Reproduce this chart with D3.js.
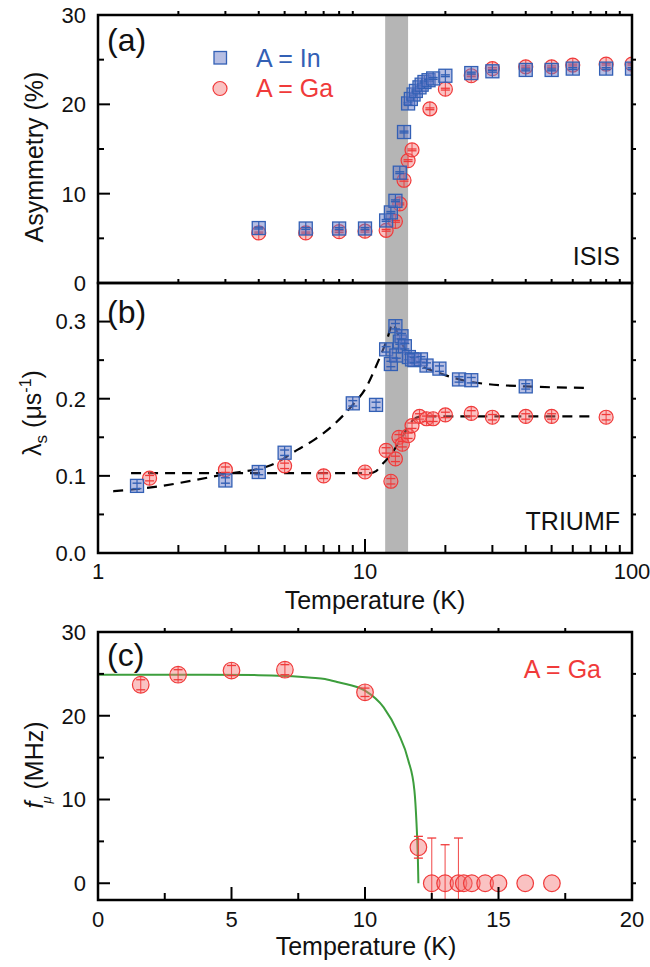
<!DOCTYPE html>
<html><head><meta charset="utf-8">
<script src="https://cdn.jsdelivr.net/npm/d3@7"></script>
<style>
body{margin:0;background:#fff}
svg{display:block}
text{font-family:"Liberation Sans",Arial,Helvetica,sans-serif;fill:#111}
</style>
</head><body>
<svg id="chart" width="650" height="967"></svg>
<script>
// ---------------- DATA ----------------
// Panel (a): ISIS asymmetry (%)
const aInT   = [4,6,8,10,12,12.5,13,13.5,14,14.5,14.85,15.2,15.5,16,16.3,16.7,17.3,18,20,25,30,40,50,60,80,100];
const aInA   = [6.15,6.1,6.1,6.1,7.0,7.9,9.2,12.35,16.9,20.1,20.6,21.1,21.5,21.9,22.2,22.5,22.7,22.9,23.2,23.5,23.7,23.85,23.85,24.0,24.0,24.0];
const aGaT   = [4,6,8,10,12,13,13.5,14,14.5,15,17.5,20,25,30,40,50,60,80,100];
const aGaA   = [5.6,5.6,5.75,5.8,5.9,6.9,8.85,11.5,13.7,14.9,19.5,21.7,23.2,24.0,24.2,24.2,24.4,24.5,24.5];
const aErr   = 0.1;

// Panel (b): TRIUMF lambda_s (us^-1)
const bInT   = [1.4,3,4,5,9,11,12,12.5,13,13.1,13.5,13.7,14.1,14.6,15,15.3,16.2,17,19,22.5,25,40];
const bInL   = [0.087,0.094,0.105,0.130,0.194,0.192,0.264,0.245,0.294,0.256,0.274,0.281,0.268,0.254,0.251,0.250,0.251,0.243,0.239,0.225,0.224,0.216];
const bGaT   = [1.56,3,5,7,10,12,12.5,13,13.4,13.8,14.5,15,16,17,18,20,25,30,40,50,80];
const bGaL   = [0.097,0.108,0.113,0.100,0.105,0.133,0.093,0.122,0.150,0.141,0.152,0.165,0.177,0.174,0.174,0.179,0.181,0.176,0.177,0.177,0.176];
const bErr   = 0.0035;
// dashed fit curves
const fitInT = [1.14,1.58,2.98,4.46,5.6,6.47,7.5,9.15,10.0,11.0,12.1,12.7,13.5,14.3,15.8,19.1,25.8,39.7,70];
const fitInL = [0.080,0.085,0.102,0.114,0.134,0.147,0.164,0.195,0.212,0.242,0.277,0.297,0.277,0.261,0.246,0.233,0.221,0.216,0.214];
const fitGaT = [1.33,10.5,11.0,11.4,12.6,13.8,15.2,16.3,70];
const fitGaL = [0.1035,0.1035,0.106,0.112,0.129,0.151,0.173,0.177,0.177];

// Transition band (K)
const band = [11.9, 14.5];

// Panel (c): muon frequency (MHz), A = Ga
const cT     = [1.6,3,5,7,10,12,12.5,13,13.5,13.7,14,14.5,15,16,17];
const cF     = [23.7,24.9,25.4,25.5,22.8,4.3,0,0,0,0,0,0,0,0,0];
const cErr   = [0.6,0.6,0.6,0.6,0.5,1.3,5.4,4.6,5.4,0,0,0,0,0,0];
const fitCT  = [0,2,4,6,7,8,8.5,9,10,10.7,11.25,11.62,11.85,11.93,11.98,12.0];
const fitCF  = [24.9,24.9,24.9,24.85,24.75,24.55,24.4,24.0,23.0,21.0,17.9,14.7,11.1,7.1,3.0,0];

// tick labels
const ticksAy = [0,10,20,30];
const ticksBy = [0.0,0.1,0.2,0.3];
const ticksLogX = [1,10,100];
const ticksCx = [0,5,10,15,20];
const ticksCy = [0,10,20,30];

// ---------------- STYLE ----------------
const BLUE = "#3360b5", BLUEFILL = "rgba(110,125,200,0.5)";
const RED = "#f03a3a", REDFILL = "rgba(245,120,120,0.45)";
const L = 98, R = 632;

const svg = d3.select("#chart");

// scales
const xLog = d3.scaleLog().domain([1,100]).range([L,R]);
const yA = d3.scaleLinear().domain([0,30]).range([283,15]);
const yB = d3.scaleLinear().domain([0,0.35]).range([553,283]);
const xC = d3.scaleLinear().domain([0,20]).range([L,R]);
const yC = d3.scaleLinear().domain([-2,30]).range([900,632]);

const defs = svg.append("defs");
function clip(id, x0, y0, x1, y1){
  defs.append("clipPath").attr("id", id).append("rect")
    .attr("x", x0).attr("y", y0).attr("width", x1-x0).attr("height", y1-y0);
  return "url(#"+id+")";
}
const clipA = clip("ca", L, 15, R, 283);
const clipB = clip("cb", L, 283, R, 553);
const clipC = clip("cc", L, 632, R, 900);

// shaded band over (a) and (b)
svg.append("rect")
  .attr("x", xLog(band[0])).attr("y", yA(30))
  .attr("width", xLog(band[1]) - xLog(band[0]))
  .attr("height", yB(0) - yA(30))
  .attr("fill", "#b5b5b5");

// ---------- generic tick drawing ----------
function vTicks(scale, vals, x, len, dir){
  vals.forEach(v=>{
    svg.append("line").attr("x1", x).attr("x2", x + dir*len)
      .attr("y1", scale(v)).attr("y2", scale(v))
      .attr("stroke", "#000").attr("stroke-width", 2);
  });
}
function hTicks(scale, vals, y, len, dir){
  vals.forEach(v=>{
    svg.append("line").attr("y1", y).attr("y2", y + dir*len)
      .attr("x1", scale(v)).attr("x2", scale(v))
      .attr("stroke", "#000").attr("stroke-width", 2);
  });
}
const logMinor = [2,3,4,5,6,7,8,9,20,30,40,50,60,70,80,90];

// ---------- markers ----------
function squares(g, xs, ys, err, xs_, ys_){
  const h = 6.5;
  xs.forEach((t,i)=>{
    const cx = xs_(t), cy = ys_(ys[i]);
    const e = Math.abs(ys_(ys[i]+err) - cy);
    g.append("rect").attr("x", cx-h).attr("y", cy-h).attr("width", 2*h).attr("height", 2*h)
      .attr("fill", BLUEFILL).attr("stroke", BLUE).attr("stroke-width", 1.3);
    const ev = Math.max(e, h);
    g.append("line").attr("x1", cx).attr("x2", cx).attr("y1", cy-ev).attr("y2", cy+ev)
      .attr("stroke", BLUE).attr("stroke-width", 1.2);
    [cy-e, cy+e].forEach(yy=>g.append("line").attr("x1", cx-4.5).attr("x2", cx+4.5)
      .attr("y1", yy).attr("y2", yy).attr("stroke", BLUE).attr("stroke-width", 1.4));
  });
}
function circles(g, xs, ys, errs, xs_, ys_, r){
  xs.forEach((t,i)=>{
    const cx = xs_(t), cy = ys_(ys[i]);
    const er = Array.isArray(errs) ? errs[i] : errs;
    const e = Math.abs(ys_(ys[i]+er) - cy);
    g.append("circle").attr("cx", cx).attr("cy", cy).attr("r", r)
      .attr("fill", REDFILL).attr("stroke", RED).attr("stroke-width", 1.2);
    const ev = Math.max(e, r);
    if (er > 0 || r < 8) {
      g.append("line").attr("x1", cx).attr("x2", cx).attr("y1", cy-ev).attr("y2", cy+ev)
        .attr("stroke", RED).attr("stroke-width", 1.1).attr("stroke-opacity", 0.85);
      [cy-e, cy+e].forEach(yy=>g.append("line").attr("x1", cx-4.5).attr("x2", cx+4.5)
        .attr("y1", yy).attr("y2", yy).attr("stroke", RED).attr("stroke-width", 1.3));
    }
  });
}

// ================= PANEL (a) =================
const gA = svg.append("g").attr("clip-path", clipA);
circles(gA, aGaT, aGaA, aErr, xLog, yA, 7);
squares(gA, aInT, aInA, aErr, xLog, yA);

// ================= PANEL (b) =================
const gB = svg.append("g").attr("clip-path", clipB);
const lineB = d3.line().x(d=>xLog(d[0])).y(d=>yB(d[1])).curve(d3.curveMonotoneX);
gB.append("path").datum(fitInT.map((t,i)=>[t,fitInL[i]])).attr("d", lineB)
  .attr("fill","none").attr("stroke","#000").attr("stroke-width",2.2).attr("stroke-dasharray","10,7");
gB.append("path").datum(fitGaT.map((t,i)=>[t,fitGaL[i]])).attr("d", lineB)
  .attr("fill","none").attr("stroke","#000").attr("stroke-width",2.2).attr("stroke-dasharray","10,7");
circles(gB, bGaT, bGaL, bErr, xLog, yB, 7);
squares(gB, bInT, bInL, bErr, xLog, yB);

// ================= PANEL (c) =================
const gC = svg.append("g").attr("clip-path", clipC);
const lineC = d3.line().x(d=>xC(d[0])).y(d=>yC(d[1])).curve(d3.curveMonotoneX);
gC.append("path").datum(fitCT.map((t,i)=>[t,fitCF[i]])).attr("d", lineC)
  .attr("fill","none").attr("stroke","#3d9e3d").attr("stroke-width",2);
circles(gC, cT, cF, cErr, xC, yC, 8.3);

// ---------- frames ----------
[[15,283],[283,553],[632,900]].forEach(([y0,y1])=>{
  svg.append("rect").attr("x", L).attr("y", y0).attr("width", R-L).attr("height", y1-y0)
    .attr("fill","none").attr("stroke","#000").attr("stroke-width",2.5);
});

// ---------- ticks ----------
// (a)
vTicks(yA, ticksAy, L, 12, 1);
vTicks(yA, [5,15,25], L, 6, 1);
vTicks(yA, [5,10,15,20,25], R, 4, 1);
hTicks(xLog, logMinor, 15, 4, -1);
// (b)
vTicks(yB, ticksBy, L, 12, 1);
vTicks(yB, [0.05,0.15,0.25], L, 6, 1);
vTicks(yB, [0.05,0.1,0.15,0.2,0.25,0.3], R, 4, 1);
hTicks(xLog, logMinor, 283, 4, -1);
hTicks(xLog, [10], 553, 14, -1);
hTicks(xLog, logMinor, 553, 8, -1);
// (c)
vTicks(yC, ticksCy, L, 12, 1);
vTicks(yC, [5,15,25], L, 6, 1);
vTicks(yC, [0,5,10,15,20,25], R, 4, 1);
hTicks(xC, [2.5,5,7.5,10,12.5,15,17.5], 632, 4, -1);
hTicks(xC, [5,10,15], 900, 13, -1);
hTicks(xC, [2.5,7.5,12.5,17.5], 900, 7, -1);

// ---------- tick labels ----------
const TF = 22;
function yLabels(scale, vals, fmt){
  vals.forEach(v=>svg.append("text").attr("x", 86).attr("y", scale(v)).attr("dy","0.36em")
    .attr("text-anchor","end").attr("font-size", TF).text(fmt(v)));
}
yLabels(yA, ticksAy, d3.format("d"));
yLabels(yB, ticksBy, d3.format(".1f"));
yLabels(yC, ticksCy, d3.format("d"));
ticksLogX.forEach(v=>svg.append("text").attr("x", xLog(v)).attr("y", 579)
  .attr("text-anchor","middle").attr("font-size", TF).text(v));
ticksCx.forEach(v=>svg.append("text").attr("x", xC(v)).attr("y", 927)
  .attr("text-anchor","middle").attr("font-size", TF).text(v));

// ---------- axis titles ----------
const AF = 25;
svg.append("text").attr("transform","translate(43,157) rotate(-90)").attr("text-anchor","middle")
  .attr("font-size", AF).text("Asymmetry (%)");
const tb = svg.append("text").attr("transform","translate(41,413) rotate(-90)").attr("text-anchor","middle")
  .attr("font-size", AF);
tb.append("tspan").text("λ");
tb.append("tspan").attr("dy", 6).attr("font-size", 17).text("s");
tb.append("tspan").attr("dy", -6).text(" (μs");
tb.append("tspan").attr("dy", -10).attr("font-size", 16).text("-1");
tb.append("tspan").attr("dy", 10).text(")");
const tc = svg.append("text").attr("transform","translate(43,765) rotate(-90)").attr("text-anchor","middle")
  .attr("font-size", AF);
tc.append("tspan").attr("font-style","italic").text("f");
tc.append("tspan").attr("dy", 8).attr("dx", -2).attr("font-size", 13).attr("font-style","italic").text("μ");
tc.append("tspan").attr("dy", -8).text(" (MHz)");
svg.append("text").attr("x", 375).attr("y", 609).attr("text-anchor","middle").attr("font-size", AF)
  .text("Temperature (K)");
svg.append("text").attr("x", 366).attr("y", 955).attr("text-anchor","middle").attr("font-size", AF)
  .text("Temperature (K)");

// ---------- panel labels & annotations ----------
[["(a)",51],["(b)",323],["(c)",666]].forEach(([t,y])=>
  svg.append("text").attr("x",107).attr("y",y).attr("font-size",32).text(t));
svg.append("text").attr("x",620).attr("y",265).attr("text-anchor","end").attr("font-size",25).text("ISIS");
svg.append("text").attr("x",620).attr("y",530).attr("text-anchor","end").attr("font-size",25).text("TRIUMF");
svg.append("text").attr("x",601).attr("y",678).attr("text-anchor","end").attr("font-size",25)
  .style("fill", RED).text("A = Ga");

// legend
svg.append("rect").attr("x",214).attr("y",51.5).attr("width",12.5).attr("height",12.5)
  .attr("fill",BLUEFILL).attr("stroke",BLUE).attr("stroke-width",1.3);
svg.append("circle").attr("cx",220).attr("cy",88.5).attr("r",7)
  .attr("fill",REDFILL).attr("stroke",RED).attr("stroke-width",1.2);
svg.append("text").attr("x",256).attr("y",66.5).attr("font-size",25).style("fill",BLUE).text("A = In");
svg.append("text").attr("x",256).attr("y",96.5).attr("font-size",25).style("fill",RED).text("A = Ga");
</script>
</body></html>
